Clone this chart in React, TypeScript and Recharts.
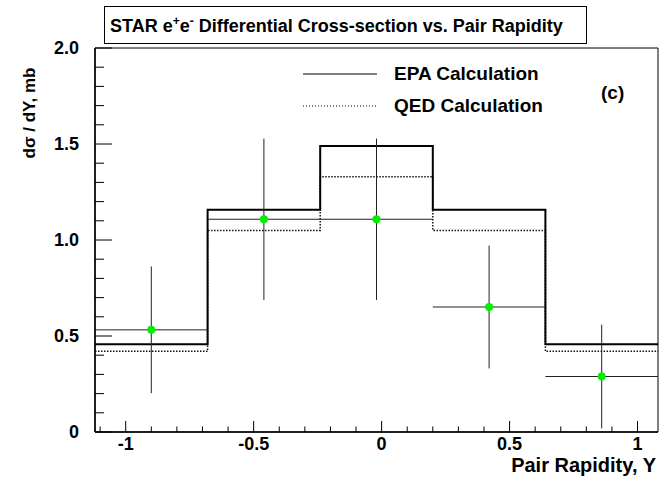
import React from "react";
import {
  ComposedChart,
  Line,
  Scatter,
  ErrorBar,
  XAxis,
  YAxis,
  ReferenceArea,
} from "recharts";

// histogram bins (5 bins of width 0.44)
const binEdges = [-1.12, -0.68, -0.24, 0.2, 0.64, 1.08];
const epaValues = [0.457, 1.157, 1.489, 1.157, 0.457];
const qedValues = [0.42, 1.05, 1.33, 1.05, 0.42];

// STAR data points
const pointX = [-0.9, -0.46, -0.02, 0.42, 0.86];
const pointY = [0.532, 1.108, 1.108, 0.651, 0.289];
const pointErrY = [0.33, 0.42, 0.42, 0.32, 0.27];
const pointErrX = [0.22, 0.22, 0.22, 0.22, 0.22];

const xTicks = [
  -1.1, -1.0, -0.9, -0.8, -0.7, -0.6, -0.5, -0.4, -0.3, -0.2, -0.1, 0, 0.1,
  0.2, 0.3, 0.4, 0.5, 0.6, 0.7, 0.8, 0.9, 1.0,
];
const xLabels: Record<string, string> = {
  "-1": "-1",
  "-0.5": "-0.5",
  "0": "0",
  "0.5": "0.5",
  "1": "1",
};
const yTicks = [
  0, 0.1, 0.2, 0.3, 0.4, 0.5, 0.6, 0.7, 0.8, 0.9, 1.0, 1.1, 1.2, 1.3, 1.4,
  1.5, 1.6, 1.7, 1.8, 1.9, 2.0,
];
const yLabels: Record<string, string> = {
  "0": "0",
  "0.5": "0.5",
  "1": "1.0",
  "1.5": "1.5",
  "2": "2.0",
};

const steps = binEdges.map((x, i) => ({
  x,
  epa: epaValues[Math.min(i, epaValues.length - 1)],
  qed: qedValues[Math.min(i, qedValues.length - 1)],
}));

const points = pointX.map((x, i) => ({
  x,
  y: pointY[i],
  ex: pointErrX[i],
  ey: pointErrY[i],
}));

const FONT = "'Liberation Sans', Arial, sans-serif";

function XTick(props: any) {
  const { x, y, payload } = props;
  const label = xLabels[String(payload.value)];
  const len = label !== undefined ? 11 : 5.5;
  return (
    <g>
      <line x1={x} y1={y} x2={x} y2={y - len} stroke="#000" strokeWidth={1} />
      {label !== undefined && (
        <text
          x={x}
          y={y + 18}
          textAnchor="middle"
          fontFamily={FONT}
          fontWeight="bold"
          fontSize={18}
          fill="#000"
        >
          {label}
        </text>
      )}
    </g>
  );
}

function YTick(props: any) {
  const { x, y, payload } = props;
  const label = yLabels[String(payload.value)];
  const len = label !== undefined ? 17 : 9;
  return (
    <g>
      <line x1={x} y1={y} x2={x + len} y2={y} stroke="#000" strokeWidth={1} />
      {label !== undefined && (
        <text
          x={x - 16}
          y={y + 6}
          textAnchor="end"
          fontFamily={FONT}
          fontWeight="bold"
          fontSize={18}
          fill="#000"
        >
          {label}
        </text>
      )}
    </g>
  );
}

function Marker(props: any) {
  return <circle cx={props.cx} cy={props.cy} r={4} fill="#00ee00" />;
}

export default function App() {
  return (
    <div
      style={{
        position: "absolute",
        left: 0,
        top: 0,
        width: 664,
        height: 479,
        background: "#fff",
      }}
    >
      <ComposedChart
        width={664}
        height={479}
        data={steps}
        margin={{ top: 48, right: 6, left: 0, bottom: 0 }}
      >
        <XAxis
          dataKey="x"
          type="number"
          domain={[-1.12, 1.08]}
          ticks={xTicks}
          interval={0}
          height={47}
          tickSize={0}
          tickMargin={0}
          tick={<XTick />}
          axisLine={{ stroke: "#000", strokeWidth: 1.5 }}
          allowDataOverflow
        />
        <YAxis
          type="number"
          domain={[0, 2]}
          ticks={yTicks}
          interval={0}
          width={95}
          tickSize={0}
          tickMargin={0}
          tick={<YTick />}
          axisLine={{ stroke: "#000", strokeWidth: 1.5 }}
          allowDataOverflow
        />
        <ReferenceArea
          x1={-1.12}
          x2={1.08}
          y1={0}
          y2={2}
          fill="none"
          stroke="#000"
          strokeWidth={1}
          ifOverflow="visible"
        />
        <Line
          dataKey="qed"
          type="stepAfter"
          stroke="#111"
          strokeWidth={1.5}
          strokeDasharray="1.5 1.5"
          dot={false}
          activeDot={false}
          isAnimationActive={false}
        />
        <Line
          dataKey="epa"
          type="stepAfter"
          stroke="#000"
          strokeWidth={2}
          dot={false}
          activeDot={false}
          isAnimationActive={false}
        />
        <Scatter
          data={points}
          dataKey="y"
          shape={<Marker />}
          isAnimationActive={false}
        >
          <ErrorBar
            dataKey="ey"
            direction="y"
            width={0}
            stroke="#222"
            strokeWidth={1}
          />
          <ErrorBar
            dataKey="ex"
            direction="x"
            width={0}
            stroke="#222"
            strokeWidth={1}
          />
        </Scatter>
      </ComposedChart>
      <svg
        width={664}
        height={479}
        style={{ position: "absolute", left: 0, top: 0, pointerEvents: "none" }}
        fontFamily={FONT}
        fontWeight="bold"
      >
        <rect x={104.5} y={6.5} width={482} height={37} fill="#fff" stroke="#000" />
        <text x={110} y={32} fontSize={18}>
          STAR e
          <tspan fontSize={12} dy={-7}>+</tspan>
          <tspan fontSize={18} dy={7}>e</tspan>
          <tspan fontSize={12} dy={-7}>-</tspan>
          <tspan fontSize={18} dy={7}> Differential Cross-section vs. Pair Rapidity</tspan>
        </text>
        <line x1={303} y1={74} x2={377} y2={74} stroke="#000" strokeWidth={1} />
        <line
          x1={303}
          y1={106}
          x2={377}
          y2={106}
          stroke="#000"
          strokeWidth={1}
          strokeDasharray="1 2"
        />
        <text x={394} y={80} fontSize={19}>EPA Calculation</text>
        <text x={394} y={112} fontSize={19}>QED Calculation</text>
        <text x={601} y={99} fontSize={19}>(c)</text>
        <text x={656} y={472} fontSize={20} textAnchor="end">
          Pair Rapidity, Y
        </text>
        <text
          x={0}
          y={0}
          fontSize={17}
          textAnchor="middle"
          transform="translate(35,113) rotate(-90)"
        >
          dσ / dY, mb
        </text>
      </svg>
    </div>
  );
}
